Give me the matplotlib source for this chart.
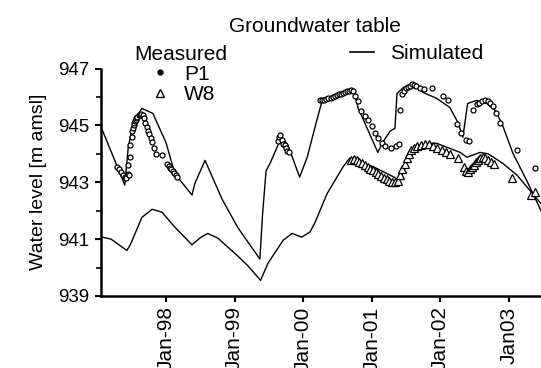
import numpy as np
import matplotlib
matplotlib.use("Agg")
import matplotlib.pyplot as plt
from matplotlib.lines import Line2D

plt.rcParams['font.family'] = ['Liberation Sans', 'DejaVu Sans']

# =============================================================
# DATA (decimal years, water level in m amsl)
# =============================================================

sim_p1_t = [1997.07, 1997.40, 1997.45, 1997.51, 1997.58, 1997.65, 1997.81, 1998.00,
            1998.13, 1998.38, 1998.42, 1998.57, 1998.82, 1999.05, 1999.37, 1999.41,
            1999.46, 1999.52, 1999.62, 1999.69, 1999.78, 1999.95, 2000.06, 2000.20,
            2000.27, 2000.39, 2000.58, 2000.71, 2000.76, 2000.80, 2001.09, 2001.16,
            2001.27, 2001.34, 2001.37, 2001.46, 2001.60, 2001.75, 2001.95, 2002.14,
            2002.26, 2002.33, 2002.40, 2002.53, 2002.68, 2002.80, 2002.90, 2003.06,
            2003.26, 2003.47]
sim_p1_h = [944.85, 942.90, 944.23, 944.93, 945.35, 945.60, 945.42, 944.40,
            943.30, 942.55, 942.95, 943.77, 942.40, 941.40, 940.30, 941.90,
            943.40, 943.67, 944.23, 944.60, 944.30, 943.18, 943.88, 945.18,
            945.80, 945.88, 946.05, 946.30, 946.05, 945.63, 944.05, 944.40,
            944.80, 944.90, 946.12, 946.33, 946.47, 946.16, 945.95, 945.63,
            945.10, 944.58, 945.77, 945.88, 945.77, 945.53, 945.07, 944.02,
            943.07, 942.00]

sim_w8_t = [1997.07, 1997.20, 1997.43, 1997.48, 1997.65, 1997.80, 1997.94, 1998.13,
            1998.38, 1998.50, 1998.61, 1998.76, 1999.05, 1999.20, 1999.38, 1999.49,
            1999.71, 1999.84, 1999.98, 2000.10, 2000.17, 2000.35, 2000.58, 2000.68,
            2001.02, 2001.27, 2001.41, 2001.63, 2001.85, 2001.95, 2002.29, 2002.39,
            2002.58, 2002.70, 2002.91, 2003.12, 2003.47]
sim_w8_h = [941.07, 941.00, 940.60, 940.80, 941.77, 942.05, 941.95, 941.42,
            940.80, 941.05, 941.20, 941.03, 940.40, 940.05, 939.55, 940.16,
            940.96, 941.20, 941.07, 941.25, 941.56, 942.60, 943.53, 943.85,
            943.55, 943.25, 943.07, 944.23, 944.37, 944.37, 944.05, 943.88,
            944.05, 944.00, 943.67, 943.25, 942.25]

obs_p1_t = [1997.28, 1997.31, 1997.34, 1997.37, 1997.40, 1997.42, 1997.44, 1997.45,
            1997.46, 1997.47, 1997.48, 1997.50, 1997.51, 1997.52, 1997.53, 1997.54,
            1997.55, 1997.56, 1997.57, 1997.58, 1997.60, 1997.62, 1997.64, 1997.66,
            1997.68, 1997.70, 1997.72, 1997.74, 1997.76, 1997.78, 1997.80, 1997.83,
            1997.86, 1997.94,
            1998.02, 1998.04, 1998.06, 1998.08, 1998.10, 1998.12, 1998.14, 1998.16,
            1999.63, 1999.65, 1999.67, 1999.69, 1999.71, 1999.73, 1999.75, 1999.77,
            1999.79,
            2000.25, 2000.28, 2000.31, 2000.34, 2000.37, 2000.40, 2000.43, 2000.46,
            2000.49, 2000.52, 2000.55, 2000.58, 2000.61, 2000.64, 2000.67, 2000.70,
            2000.73, 2000.76, 2000.80, 2000.85, 2000.90, 2000.95, 2001.00, 2001.05,
            2001.10, 2001.15, 2001.20, 2001.28, 2001.35, 2001.40,
            2001.42, 2001.44, 2001.47, 2001.50, 2001.53, 2001.56, 2001.59, 2001.62,
            2001.65, 2001.70, 2001.76, 2001.88, 2002.04, 2002.11, 2002.24, 2002.31,
            2002.38, 2002.42, 2002.48, 2002.53, 2002.57, 2002.61, 2002.65, 2002.69,
            2002.73, 2002.77, 2002.82, 2002.87, 2003.12, 2003.38]
obs_p1_h = [943.55, 943.45, 943.35, 943.25, 943.20, 943.15, 943.30, 943.60,
            943.25, 943.90, 944.30, 944.60, 944.80, 944.90, 945.00, 945.10,
            945.15, 945.20, 945.25, 945.30, 945.35, 945.38, 945.40, 945.35,
            945.25, 945.10, 944.95, 944.80, 944.70, 944.55, 944.40, 944.20,
            944.00, 943.96,
            943.65, 943.58, 943.50, 943.45, 943.40, 943.33, 943.27, 943.20,
            944.45, 944.60, 944.65, 944.50, 944.35, 944.30, 944.20, 944.10,
            944.05,
            945.88, 945.90, 945.88, 945.92, 945.95, 945.97, 946.00, 946.05,
            946.08, 946.10, 946.12, 946.15, 946.18, 946.20, 946.22, 946.25,
            946.20, 946.05, 945.85, 945.50, 945.32, 945.20, 944.97, 944.74,
            944.56, 944.39, 944.27, 944.21, 944.27, 944.33,
            945.55, 946.10, 946.20, 946.30, 946.35, 946.40, 946.45, 946.42,
            946.38, 946.32, 946.28, 946.33, 946.05, 945.90, 945.05, 944.75,
            944.50, 944.45, 945.53, 945.75, 945.80, 945.85, 945.90, 945.85,
            945.80, 945.70, 945.45, 945.07, 944.12, 943.49]

obs_w8_t = [2000.70, 2000.74, 2000.78, 2000.82, 2000.86, 2000.90, 2000.94, 2000.98,
            2001.02, 2001.06, 2001.10, 2001.14, 2001.18, 2001.22, 2001.26, 2001.30,
            2001.34, 2001.38, 2001.42, 2001.45, 2001.48, 2001.51, 2001.54, 2001.58,
            2001.62, 2001.66, 2001.72, 2001.78, 2001.84, 2001.90, 2001.96, 2002.02,
            2002.08, 2002.14, 2002.26, 2002.35, 2002.37, 2002.40, 2002.43, 2002.46,
            2002.49, 2002.52, 2002.55, 2002.58, 2002.62, 2002.66, 2002.70, 2002.74,
            2002.78, 2003.05, 2003.33, 2003.38]
obs_w8_h = [943.80, 943.82, 943.78, 943.72, 943.68, 943.62, 943.55, 943.48,
            943.42, 943.36, 943.30, 943.22, 943.15, 943.10, 943.05, 943.02,
            943.00, 943.05, 943.25, 943.45, 943.65, 943.85, 944.00, 944.12,
            944.20, 944.28, 944.32, 944.35, 944.33, 944.28, 944.22, 944.15,
            944.05, 944.00, 943.84, 943.55, 943.40, 943.35, 943.45, 943.55,
            943.62, 943.70, 943.78, 943.85, 943.90, 943.85, 943.78, 943.72,
            943.65, 943.15, 942.55, 942.65]

tick_years = [1998, 1999, 2000, 2001, 2002, 2003]
tick_labels = ["Jan-98", "Jan-99", "Jan-00", "Jan-01", "Jan-02", "Jan03"]

# =============================================================
# PLOTTING
# =============================================================

fig = plt.figure(figsize=(5.41, 3.68), dpi=100)
ax = fig.add_axes([0.1876, 0.1957, 0.8124, 0.618])

ax.plot(sim_p1_t, sim_p1_h, color='black', linewidth=1.0)
ax.plot(sim_w8_t, sim_w8_h, color='black', linewidth=1.0)

ax.plot(obs_p1_t, obs_p1_h, linestyle='none', marker='o', markersize=3.6,
        markerfacecolor='white', markeredgecolor='black', markeredgewidth=0.9)
ax.plot(obs_w8_t, obs_w8_h, linestyle='none', marker='^', markersize=5.5,
        markerfacecolor='white', markeredgecolor='black', markeredgewidth=0.9)

ax.set_xlim(1997.06, 2003.47)
ax.set_ylim(939, 947)
ax.set_yticks([939, 941, 943, 945, 947])
ax.set_yticks([940, 942, 944, 946], minor=True)
ax.set_xticks(tick_years)
ax.set_xticklabels(tick_labels, rotation=90, va='top')

ax.spines['top'].set_visible(False)
ax.spines['right'].set_visible(False)
for side in ['left', 'bottom']:
    ax.spines[side].set_linewidth(1.8)

ax.tick_params(axis='both', which='major', direction='out', length=4.5,
               width=1.5, labelsize=13.5, pad=4)
ax.tick_params(axis='y', which='minor', direction='out', length=3.5, width=1.2)
ax.tick_params(axis='x', pad=3, labelsize=15)

ax.set_ylabel("Water level [m amsl]", fontsize=14, labelpad=8)

# Title and legends
fig.text(0.582, 0.929, "Groundwater table", ha='center', va='center', fontsize=15)
fig.text(0.3346, 0.852, "Measured", ha='center', va='center', fontsize=15)

h_p1 = Line2D([], [], linestyle='none', marker='o', markersize=3.5,
              markerfacecolor='black', markeredgecolor='black')
h_w8 = Line2D([], [], linestyle='none', marker='^', markersize=6,
              markerfacecolor='white', markeredgecolor='black', markeredgewidth=1.0)
h_sim = Line2D([], [], color='black', linewidth=1.2)

leg1 = fig.legend([h_p1, h_w8], ["P1", "W8"], loc='upper left',
                  bbox_to_anchor=(150 / 541, 0.824), frameon=False,
                  fontsize=15, handlelength=1.0, handletextpad=0.65,
                  borderpad=0, borderaxespad=0, labelspacing=0.05)
leg2 = fig.legend([h_sim], ["Simulated"], loc='upper left',
                  bbox_to_anchor=(350 / 541, 0.881), frameon=False,
                  fontsize=15, handlelength=1.15, handletextpad=0.75,
                  borderpad=0, borderaxespad=0)

fig.savefig("out.png", dpi=100)
